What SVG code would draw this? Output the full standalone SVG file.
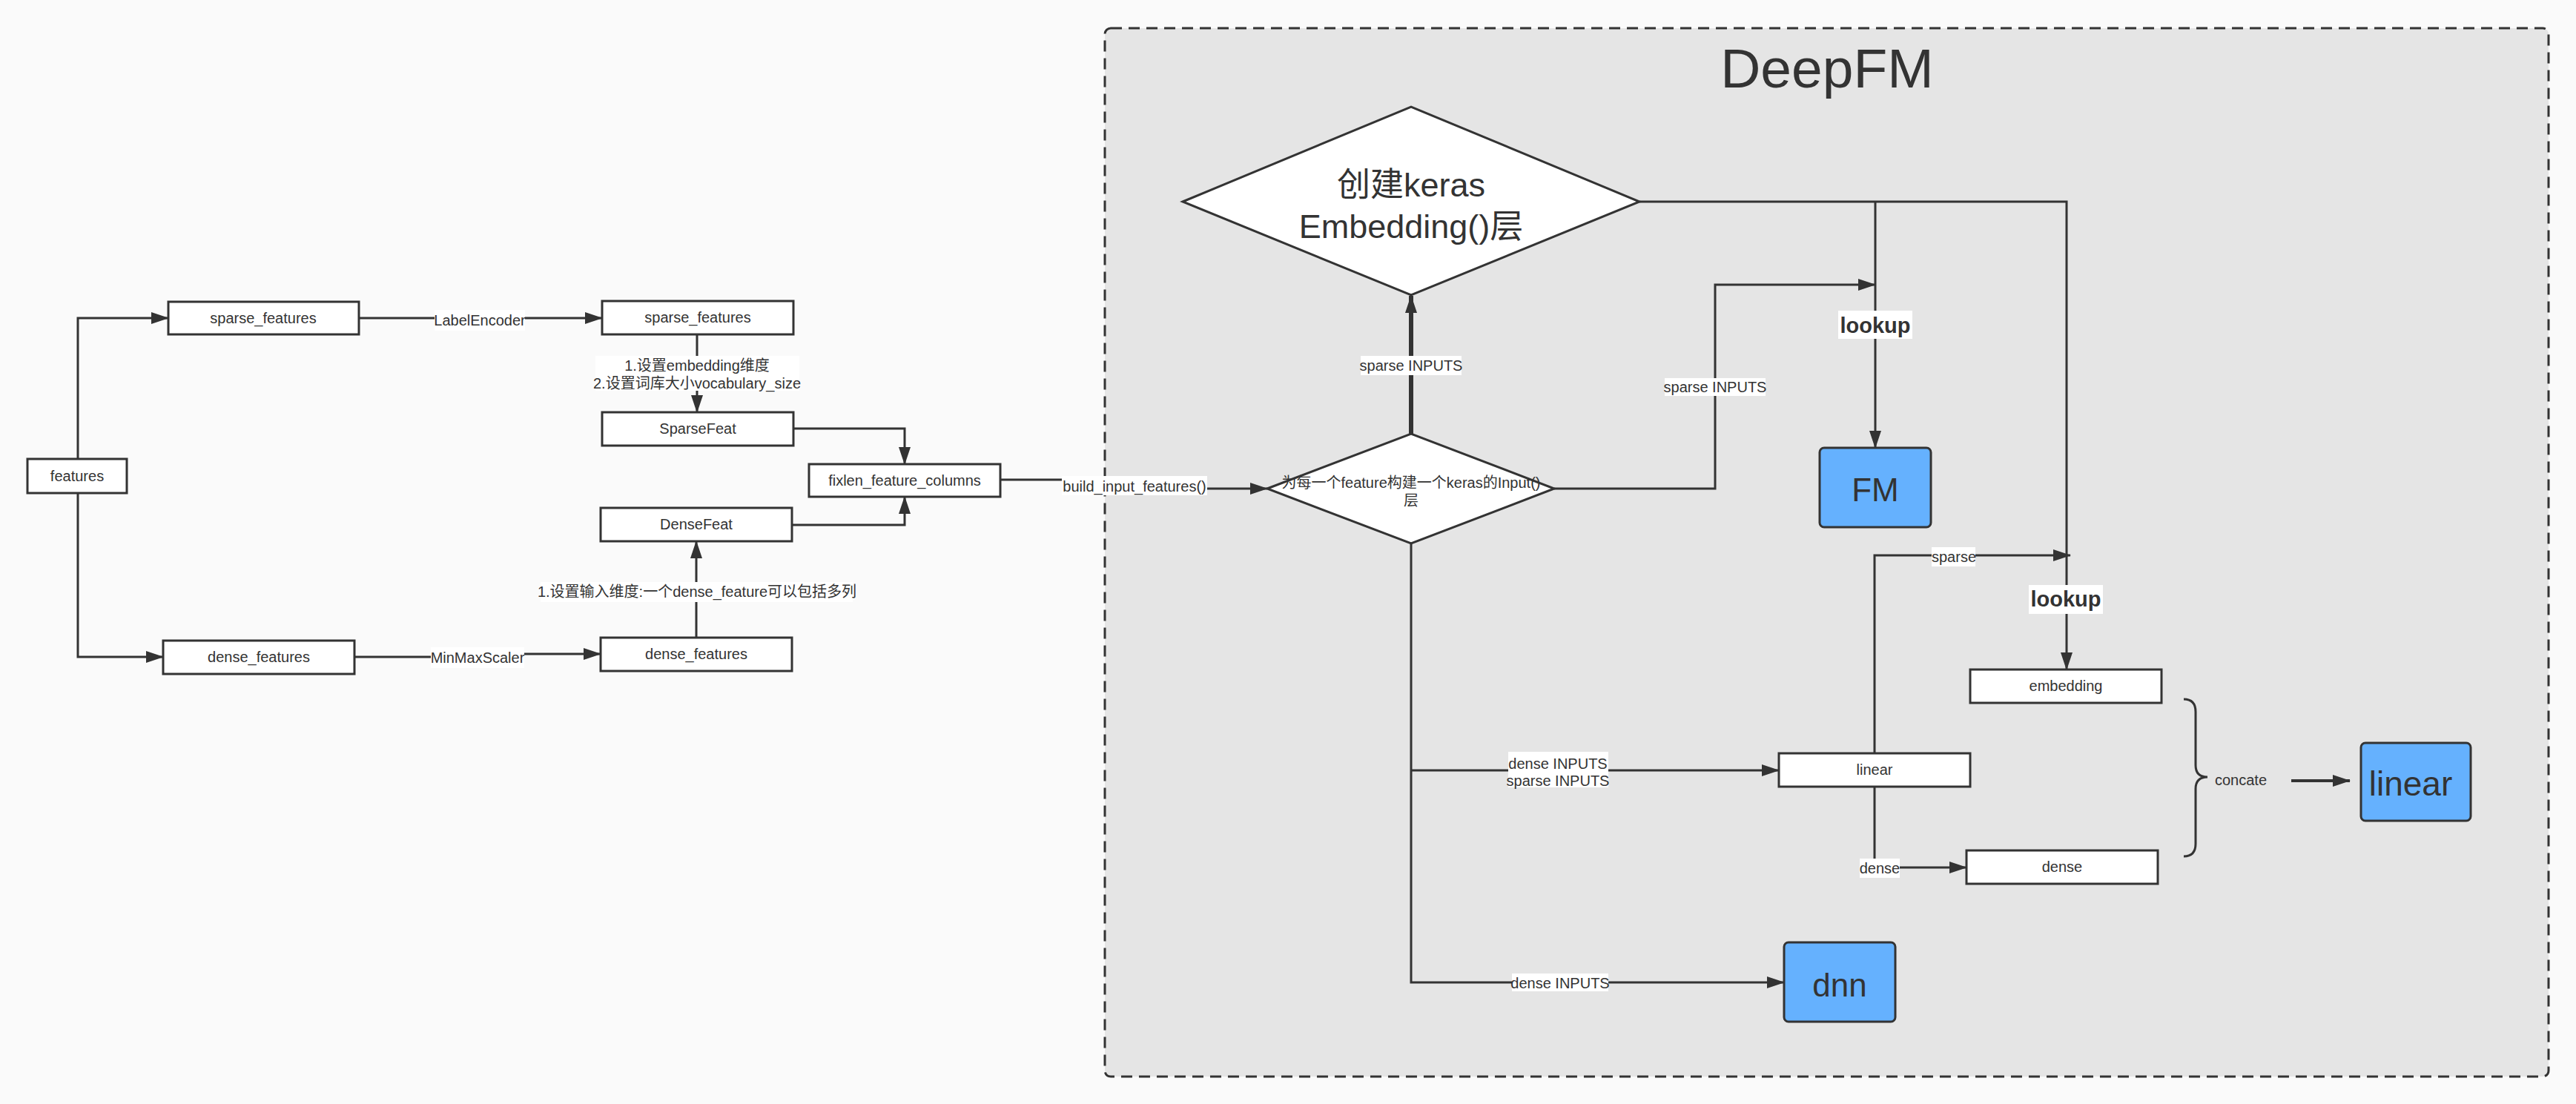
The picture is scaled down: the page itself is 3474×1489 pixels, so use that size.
<svg xmlns="http://www.w3.org/2000/svg" width="3474" height="1489" viewBox="0 0 3474 1489">
<style>
text{font-family:"Liberation Sans","Noto Sans CJK SC",sans-serif;fill:#333;text-anchor:middle}
.t{font-size:20px}
.box{fill:#fff;stroke:#333;stroke-width:3}
.blue{fill:#65b1fe;stroke:#333;stroke-width:3}
.e{fill:none;stroke:#333;stroke-width:3}
.th{fill:none;stroke:#333;stroke-width:6}
.lb{fill:#fff}
</style>
<defs>
<marker id="ah" markerUnits="userSpaceOnUse" markerWidth="24" markerHeight="18" refX="23" refY="9" orient="auto"><path d="M0,1 L24,9 L0,17 z" fill="#333"/></marker>
</defs>
<rect x="0" y="0" width="3474" height="1489" fill="#fafafa"/>
<g id="deepfm-container">
<rect x="1490" y="38" width="1947" height="1414" rx="8" fill="#e5e5e5" stroke="#333" stroke-width="3" stroke-dasharray="15 9"/>
<text x="2464" y="118" style="font-size:75px">DeepFM</text>
</g>
<g id="connectors">
<path class="e" d="M105,619 V429 H227" marker-end="url(#ah)"/>
<path class="e" d="M105,665 V886 H220" marker-end="url(#ah)"/>
<path class="e" d="M484,429 H812" marker-end="url(#ah)"/>
<path class="e" d="M478,886 H644 V882 H810" marker-end="url(#ah)"/>
<path class="e" d="M940,451 V556" marker-end="url(#ah)"/>
<path class="e" d="M939,860 V730" marker-end="url(#ah)"/>
<path class="e" d="M1070,578 H1220 V626" marker-end="url(#ah)"/>
<path class="e" d="M1068,708 H1220 V670" marker-end="url(#ah)"/>
<path class="e" d="M1349,647 H1530 V659 H1709" marker-end="url(#ah)"/>
<path class="th" d="M1903,585 V399" marker-end="url(#ah)"/>
<path class="e" d="M2211,272 H2787 V903" marker-end="url(#ah)"/>
<path class="e" d="M2529,272 V604" marker-end="url(#ah)"/>
<path class="e" d="M2096,659 H2313 V384 H2529" marker-end="url(#ah)"/>
<path class="e" d="M1903,733 V1325 H2406" marker-end="url(#ah)"/>
<path class="e" d="M1903,1039 H2399" marker-end="url(#ah)"/>
<path class="e" d="M2528,1016 V749 H2792" marker-end="url(#ah)"/>
<path class="e" d="M2528,1061 V1170 H2652" marker-end="url(#ah)"/>
<path class="e" d="M2945,943 Q2961,943 2961,960 V1032 Q2961,1048 2977,1048 Q2961,1048 2961,1064 V1138 Q2961,1155 2945,1155"/>
<path class="e" style="stroke-width:4" d="M3090,1053 H3169" marker-end="url(#ah)"/>
<rect class="lb" x="586" y="418" width="122" height="28"/>
<text class="t" x="647" y="439">LabelEncoder</text>
<rect class="lb" x="581" y="873" width="126" height="28"/>
<text class="t" x="644" y="894">MinMaxScaler</text>
<rect class="lb" x="803" y="480" width="275" height="47"/>
<text class="t" x="940" y="500">1.设置embedding维度</text>
<text class="t" x="940" y="524">2.设置词库大小vocabulary_size</text>
<rect class="lb" x="729" y="785" width="421" height="27"/>
<text class="t" x="940" y="805">1.设置输入维度:一个dense_feature可以包括多列</text>
<rect class="lb" x="1432" y="642" width="196" height="26"/>
<text class="t" x="1530" y="663">build_input_features()</text>
<rect class="lb" x="1835" y="480" width="136" height="26"/>
<text class="t" x="1903" y="500">sparse INPUTS</text>
<rect class="lb" x="2479" y="419" width="100" height="38"/>
<text x="2529" y="449" style="font-size:29px;font-weight:bold">lookup</text>
<rect class="lb" x="2736" y="789" width="100" height="39"/>
<text x="2786" y="818" style="font-size:29px;font-weight:bold">lookup</text>
<rect class="lb" x="2245" y="510" width="136" height="24"/>
<text class="t" x="2313" y="529">sparse INPUTS</text>
<rect class="lb" x="2034" y="1014" width="135" height="48"/>
<text class="t" x="2101" y="1037">dense INPUTS</text>
<text class="t" x="2101" y="1060">sparse INPUTS</text>
<rect class="lb" x="2605" y="738" width="59" height="26"/>
<text class="t" x="2635" y="758">sparse</text>
<rect class="lb" x="2508" y="1158" width="54" height="26"/>
<text class="t" x="2535" y="1178">dense</text>
<rect class="lb" x="2039" y="1313" width="130" height="24"/>
<text class="t" x="2104" y="1333">dense INPUTS</text>
<text class="t" x="3022" y="1059">concate</text>
</g>
<g id="features"><rect class="box" x="37" y="619" width="134" height="46"/><text class="t" x="104" y="649">features</text></g>
<g id="sparse_features_1"><rect class="box" x="227" y="407" width="257" height="44"/><text class="t" x="355" y="436">sparse_features</text></g>
<g id="dense_features_1"><rect class="box" x="220" y="864" width="258" height="45"/><text class="t" x="349" y="893">dense_features</text></g>
<g id="sparse_features_2"><rect class="box" x="812" y="406" width="258" height="45"/><text class="t" x="941" y="435">sparse_features</text></g>
<g id="SparseFeat"><rect class="box" x="812" y="556" width="258" height="45"/><text class="t" x="941" y="585">SparseFeat</text></g>
<g id="DenseFeat"><rect class="box" x="810" y="685" width="258" height="45"/><text class="t" x="939" y="714">DenseFeat</text></g>
<g id="dense_features_2"><rect class="box" x="810" y="860" width="258" height="45"/><text class="t" x="939" y="889">dense_features</text></g>
<g id="fixlen_feature_columns"><rect class="box" x="1091" y="626" width="258" height="44"/><text class="t" x="1220" y="655">fixlen_feature_columns</text></g>
<g id="input-diamond"><polygon class="box" points="1709,659 1903,585 2096,659 1903,733"/><text class="t" x="1903" y="658">为每一个feature构建一个keras的Input()</text><text class="t" x="1903" y="682">层</text></g>
<g id="embedding-diamond"><polygon class="box" points="1595,272 1903,144 2211,272 1903,398"/><text x="1903" y="265" style="font-size:45px">创建keras</text><text x="1903" y="321" style="font-size:45px">Embedding()层</text></g>
<g id="FM"><rect class="blue" x="2454" y="604" width="150" height="107" rx="6"/><text x="2529" y="676" style="font-size:44px">FM</text></g>
<g id="linear_small"><rect class="box" x="2399" y="1016" width="258" height="45"/><text class="t" x="2528" y="1045">linear</text></g>
<g id="embedding"><rect class="box" x="2657" y="903" width="258" height="45"/><text class="t" x="2786" y="932">embedding</text></g>
<g id="dense"><rect class="box" x="2652" y="1147" width="258" height="45"/><text class="t" x="2781" y="1176">dense</text></g>
<g id="linear_big"><rect class="blue" x="3184" y="1002" width="148" height="105" rx="6"/><text x="3251" y="1073" style="font-size:46px">linear</text></g>
<g id="dnn"><rect class="blue" x="2406" y="1271" width="150" height="107" rx="6"/><text x="2481" y="1344" style="font-size:44px">dnn</text></g>
</svg>
